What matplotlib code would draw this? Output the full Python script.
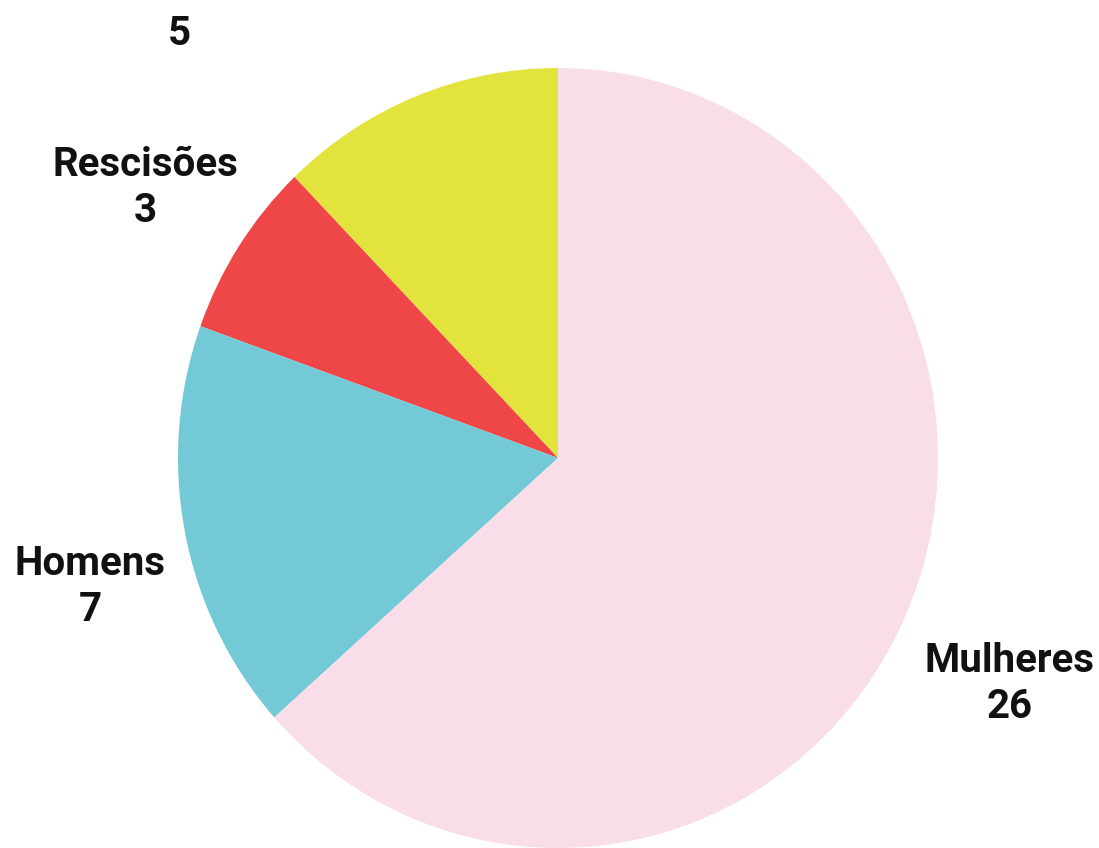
import matplotlib.pyplot as plt

labels = ["Admissões", "Rescisões", "Homens", "Mulheres"]
values = [5, 3, 7, 26]
colors = ["#E2E33D", "#EF4648", "#74C9D6", "#F9DDE9"]

# where each label block sits (data units, pie radius = 1)
label_pos = [(-0.995, 1.145), (-1.087, 0.692), (-1.232, -0.331), (1.189, -0.579)]

plt.rcParams['font.family'] = ['Roboto', 'DejaVu Sans']

fig = plt.figure(figsize=(10.99, 8.48), dpi=100)
ax = fig.add_axes([0, 0, 1, 1])

ax.pie(values, colors=colors, startangle=90, counterclock=True,
       radius=1, center=(0, 0), frame=True,
       wedgeprops=dict(linewidth=0))

for lab, v, (x, y) in zip(labels, values, label_pos):
    ax.text(x, y, lab + "\n" + str(v), ha="center", va="center",
            fontsize=29, fontweight="bold", color="#111111", linespacing=1.25)

# keep the slightly taller than wide look of the original
ax.set_xlim(-558 / 380, (1099 - 558) / 380)
ax.set_ylim(-390 / 390, 458 / 390)
ax.set_aspect("auto")
ax.axis("off")

fig.savefig("out.png", dpi=100)
